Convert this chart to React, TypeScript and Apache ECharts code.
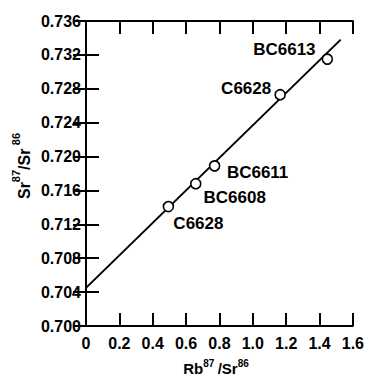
import React, { useEffect, useRef } from "react";
import * as echarts from "echarts";

// Sample names and isotope ratios
const sampleNames = ["C6628", "BC6608", "BC6611", "C6628", "BC6613"];
const rbSr = [0.494, 0.658, 0.771, 1.164, 1.447];
const srSr = [0.7141, 0.7168, 0.7189, 0.7273, 0.7315];

// Isochron line endpoints
const isoX = [0, 1.527];
const isoY = [0.7045, 0.7338];

// Axis ticks
const xTicks = [0, 0.2, 0.4, 0.6, 0.8, 1.0, 1.2, 1.4, 1.6];
const yTicks = [0.7, 0.704, 0.708, 0.712, 0.716, 0.72, 0.724, 0.728, 0.732, 0.736];

// Label offsets (pixels, style only)
const labelOffsets: [number, number][] = [
  [30, 17],
  [39, 14],
  [43, 7],
  [-34, -6],
  [-43, -10],
];

const FONT = "'Liberation Sans', Arial, Helvetica, sans-serif";

export default function App() {
  const ref = useRef<HTMLDivElement>(null);
  useEffect(() => {
    if (!ref.current) return;
    const chart = echarts.init(ref.current, undefined, { renderer: "svg" });
    const axisLine = { show: true, lineStyle: { color: "#000", width: 2 } };
    const axisTick = { show: true, inside: true, length: 13, lineStyle: { color: "#000", width: 2 } };
    const xBase = {
      type: "value" as const,
      min: xTicks[0],
      max: xTicks[xTicks.length - 1],
      interval: 0.2,
      axisLine,
      axisTick,
      splitLine: { show: false },
    };
    const yBase = {
      type: "value" as const,
      min: yTicks[0],
      max: yTicks[yTicks.length - 1],
      interval: 0.004,
      axisLine,
      axisTick,
      splitLine: { show: false },
    };
    const labelStyle = {
      show: true,
      position: "inside",
      color: "#000",
      fontSize: 17,
      fontWeight: "bold",
      fontFamily: FONT,
      textBorderWidth: 0,
      opacity: 1,
    };
    chart.setOption({
      animation: false,
      backgroundColor: "#fff",
      grid: { left: 86, top: 21, right: 12, bottom: 53 },
      xAxis: [
        {
          ...xBase,
          position: "bottom",
          axisLabel: {
            show: true,
            margin: 9,
            fontSize: 16,
            fontWeight: "bold",
            color: "#000",
            fontFamily: FONT,
            formatter: (v: number) => (v === 0 ? "0" : v.toFixed(1)),
          },
        },
        { ...xBase, position: "top", axisLabel: { show: false } },
      ],
      yAxis: [
        {
          ...yBase,
          position: "left",
          axisLabel: {
            show: true,
            margin: 5,
            fontSize: 16,
            fontWeight: "bold",
            color: "#000",
            fontFamily: FONT,
            formatter: (v: number) => v.toFixed(3),
          },
        },
        { ...yBase, position: "right", axisLabel: { show: false } },
      ],
      graphic: [
        {
          type: "text",
          x: 216,
          y: 367,
          style: {
            text: "{m|Rb}{s|87} {m|/Sr}{s|86}",
            align: "center",
            verticalAlign: "middle",
            fill: "#000",
            rich: {
              m: { fontSize: 15, fontWeight: "bold", fontFamily: FONT, lineHeight: 18, verticalAlign: "bottom", fill: "#000" },
              s: { fontSize: 10, fontWeight: "bold", fontFamily: FONT, lineHeight: 18, verticalAlign: "top", fill: "#000" },
            },
          },
        },
        {
          type: "text",
          x: 21,
          y: 166,
          rotation: Math.PI / 2,
          style: {
            text: "{m|Sr}{s|87}{m|/Sr} {s|86}",
            align: "center",
            verticalAlign: "middle",
            fill: "#000",
            rich: {
              m: { fontSize: 16, fontWeight: "bold", fontFamily: FONT, lineHeight: 22, verticalAlign: "bottom", fill: "#000" },
              s: { fontSize: 11, fontWeight: "bold", fontFamily: FONT, lineHeight: 22, verticalAlign: "top", fill: "#000" },
            },
          },
        },
      ],
      series: [
        {
          type: "line",
          data: isoX.map((x, i) => [x, isoY[i]]),
          symbol: "none",
          lineStyle: { color: "#000", width: 2 },
          z: 2,
        },
        {
          type: "scatter",
          z: 3,
          symbol: "circle",
          symbolSize: 10,
          itemStyle: { color: "#fff", borderColor: "#000", borderWidth: 1.6, opacity: 1 },
          label: labelStyle,
          emphasis: { disabled: true },
          data: rbSr.map((x, i) => ({
            value: [x, srSr[i]],
            name: sampleNames[i],
            label: {
              ...labelStyle,
              offset: labelOffsets[i],
              formatter: sampleNames[i],
            },
          })),
        },
      ],
    });
    return () => chart.dispose();
  }, []);
  return <div ref={ref} style={{ width: 367, height: 379, position: "absolute", left: 0, top: 0 }} />;
}
